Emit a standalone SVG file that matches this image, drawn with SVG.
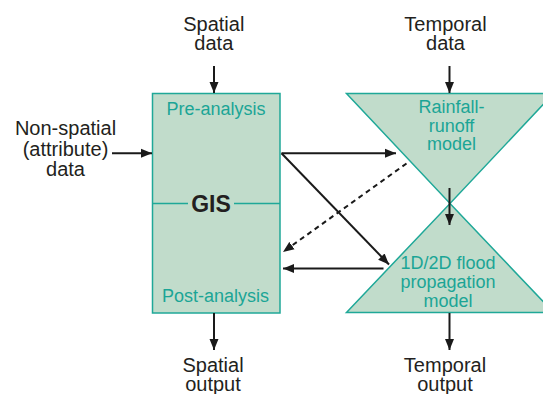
<svg xmlns="http://www.w3.org/2000/svg" width="543" height="394" viewBox="0 0 543 394">
<defs>
<marker id="ah" markerUnits="userSpaceOnUse" markerWidth="12" markerHeight="10" refX="11" refY="5" orient="auto">
<path d="M0,0.5 L11,5 L0,9.5 z" fill="#1a1a1a"/>
</marker>
<style>
.box{fill:#c1dccb;stroke:#1fa898;stroke-width:1.5}
.tl{font-family:"Liberation Sans",Arial,sans-serif;font-size:18px;fill:#1ba596;text-anchor:middle}
.bl{font-family:"Liberation Sans",Arial,sans-serif;font-size:20px;fill:#231f20;text-anchor:middle}
.gis{font-family:"Liberation Sans",Arial,sans-serif;font-size:23px;font-weight:bold;fill:#231f20;text-anchor:middle}
.c{stroke:#1a1a1a;stroke-width:2;fill:none;marker-end:url(#ah)}
.d{stroke-dasharray:5,4}
</style>
</defs>
<rect width="543" height="394" fill="#ffffff"/>
<g id="gis">
<rect class="box" x="152.5" y="93.5" width="127.5" height="219.5"/>
<line x1="152.5" y1="203.5" x2="188" y2="203.5" stroke="#1fa898" stroke-width="1.5"/>
<line x1="234" y1="203.5" x2="280" y2="203.5" stroke="#1fa898" stroke-width="1.5"/>
<text class="tl" x="216" y="115">Pre-analysis</text>
<text class="gis" x="211" y="211.5">GIS</text>
<text class="tl" x="215.5" y="301.5">Post-analysis</text>
</g>
<g id="rainfall">
<polygon class="box" points="346.5,93.5 553.5,93.5 450,203.5"/>
<text class="tl" x="451.5" y="113.3">Rainfall-</text>
<text class="tl" x="451.5" y="131.7">runoff</text>
<text class="tl" x="451.5" y="150">model</text>
</g>
<g id="flood">
<polygon class="box" points="450,203.5 553.5,312.5 346.5,312.5"/>
<text class="tl" x="448" y="269.3">1D/2D flood</text>
<text class="tl" x="448" y="288.3">propagation</text>
<text class="tl" x="448" y="306.7">model</text>
</g>
<g id="spatial-data">
<text class="bl" x="213.8" y="30.5">Spatial</text>
<text class="bl" x="213.8" y="50">data</text>
</g>
<g id="temporal-data">
<text class="bl" x="445.5" y="30.5">Temporal</text>
<text class="bl" x="445.5" y="50">data</text>
</g>
<g id="nonspatial-data">
<text class="bl" x="65.5" y="135">Non-spatial</text>
<text class="bl" x="65.5" y="155.5">(attribute)</text>
<text class="bl" x="65.5" y="176">data</text>
</g>
<g id="spatial-output">
<text class="bl" x="213" y="371.5">Spatial</text>
<text class="bl" x="213" y="390.5">output</text>
</g>
<g id="temporal-output">
<text class="bl" x="445" y="371.5">Temporal</text>
<text class="bl" x="445" y="390.5">output</text>
</g>
<g id="connectors">
<line class="c" x1="214" y1="66" x2="214" y2="93"/>
<line class="c" x1="449.5" y1="66" x2="449.5" y2="93"/>
<line class="c" x1="112" y1="153.3" x2="152" y2="153.3"/>
<line class="c" x1="214" y1="313" x2="214" y2="350"/>
<line class="c" x1="449.5" y1="313" x2="449.5" y2="350"/>
<line class="c" x1="449.5" y1="188" x2="449.5" y2="225"/>
<line class="c" x1="281.5" y1="153.3" x2="396" y2="153.3"/>
<line class="c" x1="281.5" y1="153.3" x2="389" y2="264.5"/>
<line class="c d" x1="406.5" y1="163.5" x2="283" y2="252"/>
<line class="c" x1="383.5" y1="268.5" x2="283" y2="268.5"/>
</g>
</svg>
